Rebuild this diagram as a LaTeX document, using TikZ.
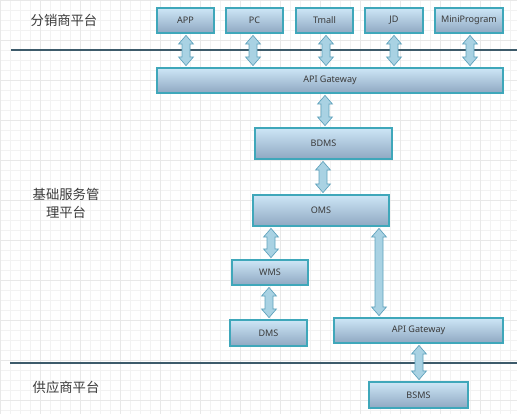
\documentclass[tikz,border=0pt]{standalone}
\usepackage{fontspec}
\setmainfont{Noto Sans}
\newfontfamily\cjk{Noto Sans CJK SC}
\usetikzlibrary{calc}
\definecolor{boxtop}{HTML}{CDE6F6}
\definecolor{boxbot}{HTML}{8FA8C2}
\definecolor{boxline}{HTML}{3FA7BA}
\definecolor{arrfill}{HTML}{A9D2E3}
\definecolor{arrline}{HTML}{5FA2BC}
\definecolor{sepline}{HTML}{3D5B6B}
\definecolor{txt}{HTML}{3A3A3A}
\tikzset{
  boxsty/.style={draw=boxline, line width=0.8pt, top color=boxtop, bottom color=boxbot,
    inner sep=0pt, outer sep=0pt, font=\fontsize{6.8}{8}\selectfont, text=txt},
  arrsty/.style={draw=arrline, fill=arrfill, line width=0.5pt, line join=miter},
  lblsty/.style={font=\cjk\fontsize{10}{12}\selectfont, text=txt, align=center},
  sepsty/.style={draw=sepline, line width=0.9pt}
}
\newcommand\pbox[6]{%
  \node[boxsty, minimum width={(#4-#2)*0.75pt}, minimum height={(#5-#3)*0.75pt}]
    (#1) at ({(#2+#4)/2},{(#3+#5)/2}) {#6};}
\newcommand\barrow[2]{%
  \draw[arrsty] let \p1=#1, \p2=#2 in
   (\x1,\y1-1.8pt) -- (\x1+5.6pt,\y1-8.3pt) -- (\x1+3pt,\y1-8.3pt) --
   (\x1+3pt,\y2+8.3pt) -- (\x1+5.6pt,\y2+8.3pt) -- (\x1,\y2+1.8pt) --
   (\x1-5.6pt,\y2+8.3pt) -- (\x1-3pt,\y2+8.3pt) -- (\x1-3pt,\y1-8.3pt) --
   (\x1-5.6pt,\y1-8.3pt) -- cycle;}
\begin{document}
\begin{tikzpicture}[x=0.75pt,y=-0.75pt]
\useasboundingbox (0,0) rectangle (517,414);
\clip (0,0) rectangle (517,414);
\fill[white] (0,0) rectangle (517,414);
% grid
\foreach \i in {0,10,...,520} {\draw[color=black!5, line width=0.4pt] (\i,0) -- (\i,414);}
\foreach \j in {0,10,...,420} {\draw[color=black!5, line width=0.4pt] (0,\j) -- (517,\j);}
\foreach \i in {0,40,...,520} {\draw[color=black!9, line width=0.4pt] (\i,0) -- (\i,414);}
\foreach \j in {0,40,...,420} {\draw[color=black!9, line width=0.4pt] (0,\j) -- (517,\j);}
% separator lines
\coordinate (s1a) at (11,50); \coordinate (s1b) at (517,50);
\coordinate (s2a) at (10,363); \coordinate (s2b) at (517,363);
\draw[sepsty] (s1a) -- (s1b);
\draw[sepsty] (s2a) -- (s2b);
% labels
\node[lblsty] (L1) at (64,20) {分销商平台};
\node[lblsty] (L2) at (66,203) {基础服务管\\[1.5pt]理平台};
\node[lblsty] (L3) at (66,387) {供应商平台};
% boxes
\pbox{APP}{157}{8}{214}{33}{APP}
\pbox{PC}{226}{8}{283}{33}{PC}
\pbox{TM}{296}{8}{353}{33}{Tmall}
\pbox{JD}{365}{8}{423}{33}{JD}
\pbox{MP}{435}{8}{503}{33}{MiniProgram}
\pbox{GW1}{157}{68}{503}{93}{API Gateway}
\pbox{BDMS}{255}{128}{392}{159}{BDMS}
\pbox{OMS}{253}{195}{389}{226}{OMS}
\pbox{WMS}{232}{260}{308}{285}{WMS}
\pbox{DMS}{230}{320}{307}{346}{DMS}
\pbox{GW2}{334}{318}{503}{343}{API Gateway}
\pbox{BSMS}{369}{382}{468}{408}{BSMS}
% arrows
\barrow{(APP.south -| 186,0)}{(GW1.north -| 186,0)}
\barrow{(PC.south -| 253,0)}{(GW1.north -| 253,0)}
\barrow{(TM.south -| 326,0)}{(GW1.north -| 326,0)}
\barrow{(JD.south -| 394,0)}{(GW1.north -| 394,0)}
\barrow{(MP.south -| 470,0)}{(GW1.north -| 470,0)}
\barrow{(GW1.south -| 325,0)}{(BDMS.north -| 325,0)}
\barrow{(BDMS.south -| 323,0)}{(OMS.north -| 323,0)}
\barrow{(OMS.south -| 271,0)}{(WMS.north -| 271,0)}
\barrow{(OMS.south -| 379,0)}{(GW2.north -| 379,0)}
\barrow{(WMS.south -| 269,0)}{(DMS.north -| 269,0)}
\barrow{(GW2.south -| 419,0)}{(BSMS.north -| 419,0)}
\end{tikzpicture}
\end{document}
